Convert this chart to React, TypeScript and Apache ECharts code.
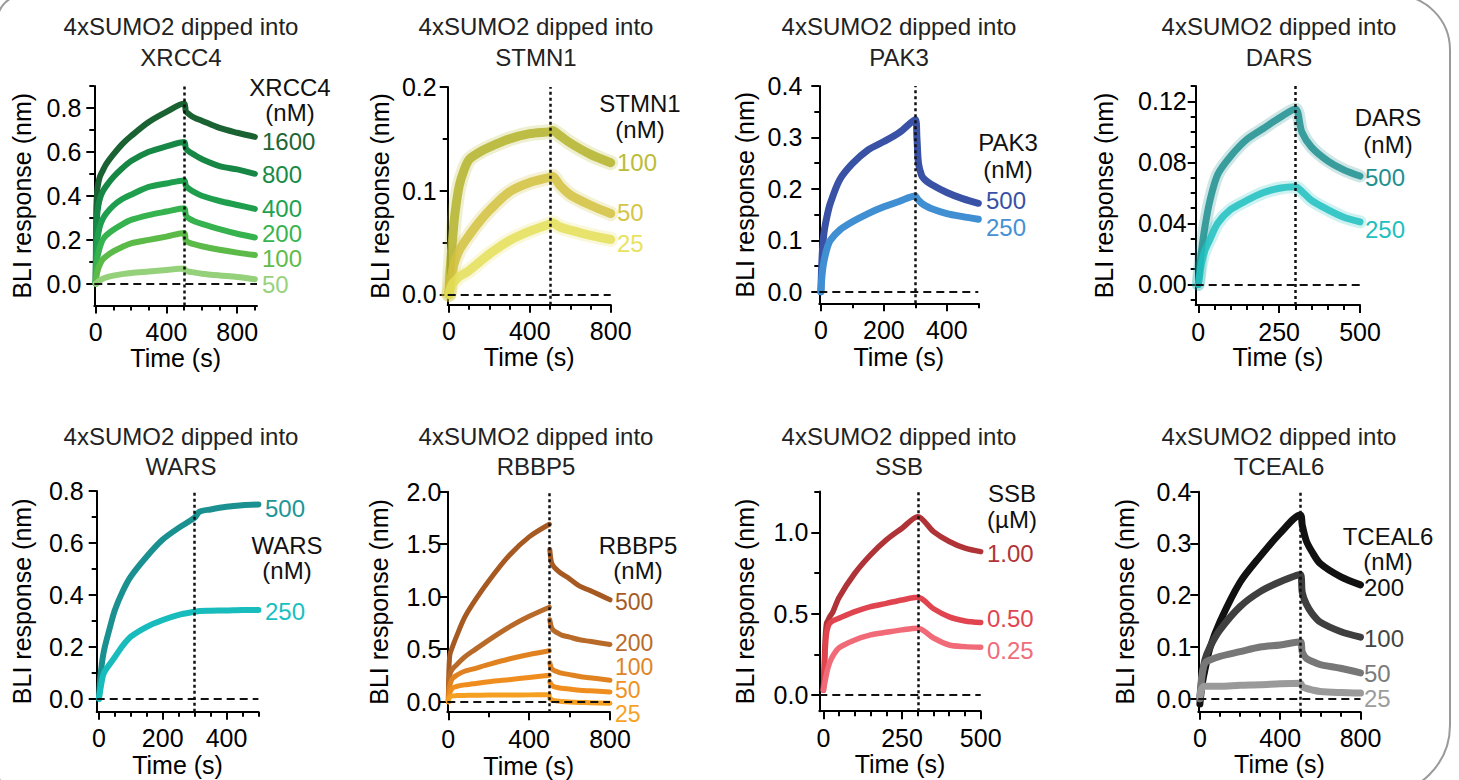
import React, { useEffect, useRef } from 'react';
import * as echarts from 'echarts';

// ---------------- DATA ----------------
// XRCC4 (nM)
const xrccTime = [0, 3, 8, 15, 25, 40, 60, 100, 150, 200, 300, 400, 500, 510, 530, 560, 600, 700, 800, 900];
const xrccConc = ['1600', '800', '400', '200', '100', '50'];
const xrcc1600 = [0, 0.33, 0.42, 0.46, 0.49, 0.515, 0.545, 0.588, 0.635, 0.672, 0.736, 0.782, 0.82, 0.785, 0.77, 0.755, 0.742, 0.709, 0.687, 0.668];
const xrcc800 = [0, 0.22, 0.31, 0.355, 0.39, 0.42, 0.445, 0.485, 0.525, 0.558, 0.6, 0.625, 0.645, 0.615, 0.6, 0.585, 0.567, 0.535, 0.52, 0.5];
const xrcc400 = [0, 0.12, 0.19, 0.23, 0.265, 0.295, 0.32, 0.355, 0.385, 0.405, 0.44, 0.456, 0.47, 0.445, 0.43, 0.415, 0.4, 0.376, 0.358, 0.34];
const xrcc200 = [0, 0.06, 0.11, 0.14, 0.17, 0.2, 0.22, 0.245, 0.27, 0.29, 0.312, 0.328, 0.343, 0.31, 0.295, 0.283, 0.272, 0.248, 0.227, 0.21];
const xrcc100 = [0, 0.025, 0.05, 0.07, 0.09, 0.11, 0.125, 0.147, 0.167, 0.183, 0.199, 0.214, 0.23, 0.195, 0.186, 0.178, 0.17, 0.154, 0.141, 0.13];
const xrcc50 = [0, 0, 0.005, 0.01, 0.015, 0.022, 0.028, 0.036, 0.043, 0.048, 0.055, 0.062, 0.068, 0.058, 0.054, 0.05, 0.045, 0.037, 0.03, 0.02];

// STMN1 (nM)
const stmnTime = [0, 5, 10, 20, 30, 50, 75, 100, 150, 200, 300, 400, 500, 510, 550, 600, 700, 800];
const stmnConc = ['100', '50', '25'];
const stmn100 = [0, 0.02, 0.035, 0.058, 0.078, 0.104, 0.12, 0.13, 0.137, 0.142, 0.15, 0.155, 0.157, 0.158, 0.153, 0.146, 0.135, 0.127];
const stmn50 = [0, 0.008, 0.014, 0.025, 0.032, 0.042, 0.05, 0.057, 0.07, 0.081, 0.099, 0.108, 0.113, 0.114, 0.105, 0.096, 0.086, 0.078];
const stmn25 = [0, 0.004, 0.007, 0.011, 0.013, 0.017, 0.02, 0.023, 0.031, 0.039, 0.052, 0.061, 0.068, 0.069, 0.065, 0.062, 0.057, 0.053];

// PAK3 (nM)
const pakTime = [0, 2, 5, 10, 20, 30, 60, 100, 150, 200, 250, 300, 305, 310, 320, 330, 350, 400, 450, 500];
const pakConc = ['500', '250'];
const pak500 = [0, 0.04, 0.08, 0.115, 0.148, 0.172, 0.218, 0.249, 0.276, 0.292, 0.31, 0.335, 0.3, 0.25, 0.226, 0.218, 0.209, 0.193, 0.181, 0.172];
const pak250 = [0, 0.02, 0.04, 0.06, 0.085, 0.1, 0.12, 0.136, 0.152, 0.165, 0.176, 0.186, 0.182, 0.178, 0.172, 0.168, 0.162, 0.152, 0.146, 0.141];

// DARS (nM)
const darsTime = [0, 5, 10, 20, 35, 60, 100, 150, 200, 250, 300, 320, 350, 400, 450, 500];
const darsConc = ['500', '250'];
const dars500 = [0, 0.012, 0.022, 0.037, 0.054, 0.072, 0.084, 0.095, 0.102, 0.109, 0.115, 0.1, 0.09, 0.081, 0.075, 0.071];
const dars250 = [0, 0.007, 0.014, 0.022, 0.029, 0.04, 0.049, 0.055, 0.06, 0.063, 0.064, 0.061, 0.055, 0.049, 0.044, 0.041];

// WARS (nM)
const warsTime = [0, 5, 15, 35, 50, 75, 100, 150, 200, 250, 300, 315, 350, 400, 450, 500];
const warsConc = ['500', '250'];
const wars500 = [0, 0.09, 0.18, 0.277, 0.342, 0.415, 0.471, 0.548, 0.613, 0.658, 0.697, 0.72, 0.729, 0.739, 0.745, 0.748];
const wars250 = [0, 0.04, 0.097, 0.135, 0.161, 0.205, 0.239, 0.277, 0.303, 0.323, 0.335, 0.338, 0.339, 0.34, 0.342, 0.342];

// RBBP5 (nM) — null marks the break between association and dissociation
const rbbpTime = [0, 3, 8, 20, 40, 80, 120, 200, 300, 400, 500, 501, 502, 510, 520, 540, 560, 600, 650, 700, 800];
const rbbpConc = ['500', '200', '100', '50', '25'];
const rbbp500 = [0, 0.3, 0.45, 0.52, 0.62, 0.8, 0.93, 1.15, 1.39, 1.57, 1.69, null, 1.45, 1.33, 1.29, 1.25, 1.22, 1.17, 1.1, 1.06, 0.97];
const rbbp200 = [0, 0.18, 0.26, 0.31, 0.35, 0.425, 0.48, 0.587, 0.71, 0.813, 0.9, null, 0.78, 0.71, 0.68, 0.655, 0.635, 0.615, 0.59, 0.575, 0.545];
const rbbp100 = [0, 0.1, 0.16, 0.22, 0.25, 0.29, 0.31, 0.355, 0.407, 0.45, 0.485, null, 0.37, 0.32, 0.3, 0.285, 0.272, 0.258, 0.24, 0.228, 0.205];
const rbbp50 = [0, 0.05, 0.09, 0.13, 0.145, 0.16, 0.17, 0.19, 0.21, 0.23, 0.252, null, 0.19, 0.16, 0.145, 0.135, 0.128, 0.12, 0.11, 0.104, 0.093];
const rbbp25 = [0, 0.03, 0.045, 0.055, 0.058, 0.06, 0.061, 0.063, 0.064, 0.065, 0.066, null, 0.035, 0.02, 0.012, 0.006, 0.002, -0.003, -0.007, -0.01, -0.015];

// SSB (µM)
const ssbTime = [0, 3, 6, 10, 15, 20, 30, 50, 100, 150, 200, 250, 300, 350, 400, 450, 500];
const ssbConc = ['1.00', '0.50', '0.25'];
const ssb100 = [0.03, 0.2, 0.35, 0.44, 0.46, 0.48, 0.51, 0.6, 0.748, 0.861, 0.953, 1.025, 1.096, 1.004, 0.943, 0.902, 0.881];
const ssb050 = [0.03, 0.15, 0.28, 0.38, 0.42, 0.44, 0.455, 0.472, 0.512, 0.543, 0.563, 0.584, 0.6, 0.53, 0.48, 0.455, 0.445];
const ssb025 = [0.03, 0.06, 0.09, 0.13, 0.17, 0.2, 0.24, 0.29, 0.338, 0.369, 0.385, 0.4, 0.41, 0.35, 0.307, 0.297, 0.293];

// TCEAL6 (nM)
const tcealTime = [0, 10, 25, 50, 100, 200, 300, 400, 500, 510, 530, 560, 600, 700, 800];
const tcealConc = ['200', '100', '50', '25'];
const tceal200 = [-0.01, 0.025, 0.056, 0.098, 0.149, 0.225, 0.275, 0.32, 0.355, 0.335, 0.305, 0.283, 0.261, 0.236, 0.22];
const tceal100 = [0, 0.04, 0.075, 0.1, 0.133, 0.178, 0.207, 0.226, 0.24, 0.205, 0.183, 0.164, 0.148, 0.13, 0.119];
const tceal50 = [0, 0.045, 0.069, 0.075, 0.082, 0.091, 0.1, 0.104, 0.11, 0.09, 0.078, 0.072, 0.066, 0.059, 0.05];
const tceal25 = [0.005, 0.02, 0.024, 0.024, 0.024, 0.026, 0.027, 0.029, 0.03, 0.024, 0.02, 0.017, 0.014, 0.012, 0.011];

// Tick values
const ticks800 = [0, 400, 800];
const ticks400 = [0, 200, 400];
const ticks500 = [0, 250, 500];

// ---------------- LAYOUT / STYLE ----------------
const FONT = "'Liberation Sans', Arial, Helvetica, sans-serif";
const TITLE_LINE = '4xSUMO2 dipped into';

const panels: any[] = [
  {
    target: 'XRCC4', unit: '(nM)', time: xrccTime, conc: xrccConc,
    values: [xrcc1600, xrcc800, xrcc400, xrcc200, xrcc100, xrcc50],
    colors: ['#1b6232', '#178745', '#1f9f4e', '#36b24f', '#5cba49', '#95d07a'],
    textColors: ['#1d6634', '#178a45', '#1fa24f', '#38b44f', '#5fbb4a', '#98d27c'],
    L: { left: 94.3, top: 86, right: 257, bottom: 305.5 },
    x: [-8, 912], y: [-0.1, 0.9], xMajor: ticks800, xMinor: [100, 200, 300, 500, 600, 700, 900],
    yMajor: [0, 0.2, 0.4, 0.6, 0.8], yMinor: [0.1, 0.3, 0.5, 0.7, 0.9], dec: 1,
    yMargin: 13, yNameGap: 60, xNameGap: 39, lw: 6, op: 1, vline: 500, titleX: 181, row: 0,
    numFont: 24, head: { x: 290, y: [87.5, 112] }, numX: 262, numY: [141, 174, 208, 233.5, 258, 284],
  },
  {
    target: 'STMN1', unit: '(nM)', time: stmnTime, conc: stmnConc,
    values: [stmn100, stmn50, stmn25],
    colors: ['#b4b42e', '#d2c13e', '#e4df58'],
    textColors: ['#bcbc38', '#d6c544', '#e8e35e'],
    L: { left: 447.7, top: 87, right: 610.7, bottom: 304.8 },
    x: [-6, 800], y: [-0.01, 0.2], xMajor: ticks800, xMinor: [100, 200, 300, 500, 600, 700],
    yMajor: [0, 0.1, 0.2], yMinor: [0.05, 0.15], dec: 1,
    yMargin: 11, yNameGap: 55, xNameGap: 39, lw: 9, op: 0.85, halo: true, vline: 500, titleX: 536, row: 0,
    numFont: 24, head: { x: 640, y: [103.5, 129] }, numX: 617, numY: [162, 212, 243],
  },
  {
    target: 'PAK3', unit: '(nM)', time: pakTime, conc: pakConc,
    values: [pak500, pak250],
    colors: ['#3952a6', '#408fd2'],
    textColors: ['#3951a5', '#4690d4'],
    L: { left: 819.3, top: 86, right: 978.3, bottom: 303.3 },
    x: [-5, 500], y: [-0.0225, 0.4], xMajor: ticks400, xMinor: [100, 300, 500],
    yMajor: [0, 0.1, 0.2, 0.3, 0.4], yMinor: [0.05, 0.15, 0.25, 0.35], dec: 1,
    yMargin: 17, yNameGap: 61.5, xNameGap: 41, lw: 7, op: 1, vline: 300, titleX: 899, row: 0,
    numFont: 24, head: { x: 1008, y: [142.5, 169] }, numX: 986, numY: [200, 227],
  },
  {
    target: 'DARS', unit: '(nM)', time: darsTime, conc: darsConc,
    values: [dars500, dars250],
    colors: ['#1e8f8f', '#1fbfbf'],
    textColors: ['#1d9090', '#1ec0c0'],
    L: { left: 1195.7, top: 86, right: 1360, bottom: 305 },
    x: [-8, 500], y: [-0.0135, 0.13], xMajor: ticks500, xMinor: [50, 100, 150, 200, 300, 350, 400, 450],
    yMajor: [0, 0.04, 0.08, 0.12], yMinor: [-0.01, 0.01, 0.02, 0.03, 0.05, 0.06, 0.07, 0.09, 0.1, 0.11, 0.13], dec: 2,
    yMargin: 9, yNameGap: 79, xNameGap: 39, lw: 7, op: 0.85, halo: true, vline: 300, titleX: 1279, row: 0,
    numFont: 24, head: { x: 1388, y: [117.5, 144] }, numX: 1365, numY: [177.5, 229],
  },
  {
    target: 'WARS', unit: '(nM)', time: warsTime, conc: warsConc,
    values: [wars500, wars250],
    colors: ['#1a9090', '#18bcbc'],
    textColors: ['#1d9696', '#19c0c0'],
    L: { left: 96.7, top: 491, right: 258.4, bottom: 711.7 },
    x: [-7, 500], y: [-0.05, 0.8], xMajor: ticks400, xMinor: [50, 100, 150, 250, 300, 350, 450, 500],
    yMajor: [0, 0.2, 0.4, 0.6, 0.8], yMinor: [0.1, 0.3, 0.5, 0.7], dec: 1,
    yMargin: 13, yNameGap: 62.5, xNameGap: 41, lw: 6, op: 1, vline: 300, titleX: 181, row: 1,
    numFont: 24, head: { x: 287, y: [545, 570] }, numX: 265, numY: [508, 611.5],
  },
  {
    target: 'RBBP5', unit: '(nM)', time: rbbpTime, conc: rbbpConc,
    values: [rbbp500, rbbp200, rbbp100, rbbp50, rbbp25],
    colors: ['#a65a22', '#b86a29', '#e0821f', '#ef8d1e', '#f6a021'],
    textColors: ['#a65c25', '#b96c2b', '#de8528', '#f0921f', '#f7a227'],
    L: { left: 447.3, top: 491.7, right: 610, bottom: 712.2 },
    x: [-5, 800], y: [-0.1, 2.0], xMajor: ticks800, xMinor: [200, 600],
    yMajor: [0, 0.5, 1, 1.5, 2], yMinor: [], dec: 1,
    yMargin: 6, yNameGap: 55.5, xNameGap: 41, lw: 5, op: 1, vline: 500, titleX: 536, row: 1,
    numFont: 23, head: { x: 638, y: [545, 570] }, numX: 615, numY: [602, 643, 666.5, 690, 713.5],
  },
  {
    target: 'SSB', unit: '(µM)', time: ssbTime, conc: ssbConc,
    values: [ssb100, ssb050, ssb025],
    colors: ['#b03437', '#e0444f', '#f06a78'],
    textColors: ['#b0353a', '#e04651', '#f06c7a'],
    L: { left: 819.3, top: 491.6, right: 980.7, bottom: 711.2 },
    x: [-13, 500], y: [-0.1, 1.25], xMajor: ticks500, xMinor: [50, 100, 150, 200, 300, 350, 400, 450],
    yMajor: [0, 0.5, 1], yMinor: [0.25, 0.75, 1.25], dec: 1,
    yMargin: 11, yNameGap: 61.5, xNameGap: 40.5, lw: 5.5, op: 1, vline: 300, titleX: 899, row: 1,
    numFont: 24, head: { x: 1012, y: [493.5, 519] }, numX: 987, numY: [553.5, 618.5, 650.5],
  },
  {
    target: 'TCEAL6', unit: '(nM)', time: tcealTime, conc: tcealConc,
    values: [tceal200, tceal100, tceal50, tceal25],
    colors: ['#111111', '#3f3f3f', '#777777', '#9a9a9a'],
    textColors: ['#111111', '#444444', '#7a7a7a', '#9c9c9c'],
    L: { left: 1198.3, top: 491.7, right: 1360.5, bottom: 711.7 },
    x: [-8, 800], y: [-0.025, 0.4], xMajor: ticks800, xMinor: [100, 200, 300, 500, 600, 700],
    yMajor: [0, 0.1, 0.2, 0.3, 0.4], yMinor: [], dec: 1,
    yMargin: 7, yNameGap: 60.5, xNameGap: 30, lw: 7, op: 1, vline: 500, titleX: 1279, row: 1,
    numFont: 24, head: { x: 1388, y: [536, 561] }, numX: 1364, numY: [587.5, 638, 673.5, 698.5],
  },
];

const TITLE_Y = [[26.5, 57.5], [436.5, 466.5]];

function txt(text: string, x: number, y: number, size: number, color: string, align = 'left') {
  return {
    type: 'text', x, y, silent: true, z: 10,
    style: {
      text, fill: color, fontSize: size, fontFamily: FONT, lineHeight: size,
      align, verticalAlign: 'middle', textAlign: align, textVerticalAlign: 'middle',
    },
  };
}

function buildOption() {
  const grid: any[] = [];
  const xAxis: any[] = [];
  const yAxis: any[] = [];
  const series: any[] = [];
  const graphic: any[] = [
    {
      type: 'rect', silent: true, z: 0,
      shape: { x: -3, y: -5, width: 1453, height: 800, r: [27, 55, 70, 27] },
      style: { fill: 'none', stroke: '#9a9a9a', lineWidth: 2 },
    },
  ];

  panels.forEach((p, i) => {
    const L = p.L;
    grid.push({
      left: L.left, top: L.top, width: L.right - L.left, height: L.bottom - L.top,
      containLabel: false, outerBoundsMode: 'none',
    });
    const axisLine = { show: true, onZero: false, lineStyle: { color: '#000', width: 2 } };
    const labelStyle = { fontSize: 25, fontFamily: FONT, color: '#000' };
    xAxis.push({
      type: 'value', gridIndex: i, min: p.x[0], max: p.x[1], position: 'bottom',
      axisLine,
      axisTick: { show: true, customValues: p.xMajor, length: 8, lineStyle: { color: '#000', width: 2 } },
      axisLabel: { show: true, customValues: p.xMajor, margin: 14, ...labelStyle, formatter: (v: number) => String(v) },
      splitLine: { show: false },
      name: 'Time (s)', nameLocation: 'middle', nameGap: p.xNameGap, nameTextStyle: labelStyle,
    });
    xAxis.push({
      type: 'value', gridIndex: i, min: p.x[0], max: p.x[1], position: 'bottom',
      axisLine: { show: false, onZero: false },
      axisTick: p.xMinor.length
        ? { show: true, customValues: p.xMinor, length: 5, lineStyle: { color: '#000', width: 2 } }
        : { show: false },
      axisLabel: { show: false }, splitLine: { show: false },
    });
    yAxis.push({
      type: 'value', gridIndex: i, min: p.y[0], max: p.y[1], position: 'left',
      axisLine,
      axisTick: { show: true, customValues: p.yMajor, length: 8, lineStyle: { color: '#000', width: 2 } },
      axisLabel: { show: true, customValues: p.yMajor, margin: p.yMargin, ...labelStyle, formatter: (v: number) => v.toFixed(p.dec) },
      splitLine: { show: false },
      name: 'BLI response (nm)', nameLocation: 'middle', nameRotate: 90, nameGap: p.yNameGap, nameTextStyle: labelStyle,
    });
    yAxis.push({
      type: 'value', gridIndex: i, min: p.y[0], max: p.y[1], position: 'left',
      axisLine: { show: false, onZero: false },
      axisTick: p.yMinor.length
        ? { show: true, customValues: p.yMinor, length: 5, lineStyle: { color: '#000', width: 2 } }
        : { show: false },
      axisLabel: { show: false }, splitLine: { show: false },
    });

    const xi = 2 * i;
    const yi = 2 * i;
    p.values.forEach((vals: (number | null)[], k: number) => {
      const data = p.time.map((t: number, j: number) => [t, vals[j] === null ? '-' : vals[j]]);
      if (p.halo) {
        series.push({
          type: 'line', xAxisIndex: xi, yAxisIndex: yi, silent: true, z: 1,
          data, showSymbol: false, symbol: 'none', smooth: 0.3,
          lineStyle: { color: p.colors[k], width: p.lw + 6, opacity: 0.22, cap: 'round', join: 'round' },
        });
      }
      series.push({
        type: 'line', xAxisIndex: xi, yAxisIndex: yi, silent: true, z: 2 + k * 0.01,
        data, showSymbol: false, symbol: 'none', smooth: 0.3, connectNulls: false,
        lineStyle: { color: p.colors[k], width: p.lw, opacity: p.op, cap: 'round', join: 'round' },
        itemStyle: { color: p.colors[k] },
      });
    });
    series.push({
      type: 'line', xAxisIndex: xi, yAxisIndex: yi, silent: true, z: 5,
      data: [[p.vline, 0]], showSymbol: false, symbol: 'none', lineStyle: { opacity: 0 },
      markLine: {
        silent: true, symbol: ['none', 'none'], label: { show: false }, animation: false,
        data: [
          { yAxis: 0, lineStyle: { type: [8, 5], width: 2.2, color: '#111' } },
          { xAxis: p.vline, lineStyle: { type: [3, 3], width: 2.5, color: '#111' } },
        ],
      },
    });

    const ty = TITLE_Y[p.row];
    graphic.push(txt(TITLE_LINE, p.titleX, ty[0], 24, '#222', 'center'));
    graphic.push(txt(p.target, p.titleX, ty[1], 24, '#222', 'center'));
    graphic.push(txt(p.target, p.head.x, p.head.y[0], 24, '#111', 'center'));
    graphic.push(txt(p.unit, p.head.x, p.head.y[1], 24, '#111', 'center'));
    p.conc.forEach((c: string, k: number) => {
      graphic.push(txt(c, p.numX, p.numY[k], p.numFont, p.textColors[k], 'left'));
    });
  });

  return {
    animation: false,
    backgroundColor: '#ffffff',
    grid, xAxis, yAxis, series, graphic,
  };
}

export default function App() {
  const ref = useRef<HTMLDivElement>(null);
  useEffect(() => {
    if (!ref.current) return;
    const chart = echarts.init(ref.current, undefined, { renderer: 'svg' });
    chart.setOption(buildOption() as any);
    return () => chart.dispose();
  }, []);
  return (
    <div
      ref={ref}
      style={{ position: 'fixed', left: 0, top: 0, width: 1459, height: 780, background: '#fff' }}
    />
  );
}
